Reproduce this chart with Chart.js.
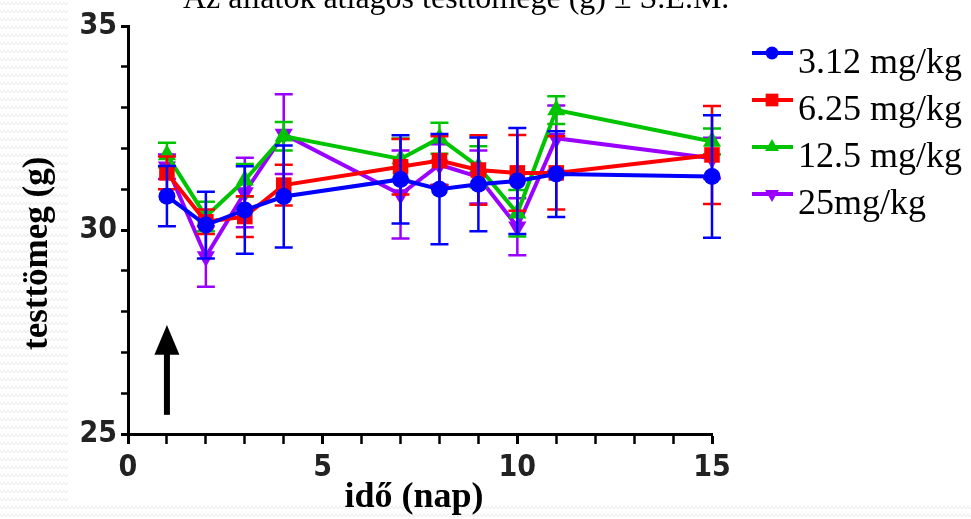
<!DOCTYPE html>
<html>
<head>
<meta charset="utf-8">
<script src="https://cdn.jsdelivr.net/npm/chart.js@4/dist/chart.umd.min.js"></script>
<style>
html,body{margin:0;padding:0;}
body{width:971px;height:519px;overflow:hidden;position:relative;
background:#fff url("data:image/svg+xml,%3Csvg xmlns='http://www.w3.org/2000/svg' width='8' height='8'%3E%3Cpath d='M0 2 L2 5 L4 2 L6 5 L8 2' fill='none' stroke='%23ebebeb' stroke-width='1'/%3E%3C/svg%3E") repeat;}
#white{position:absolute;left:68px;top:0;width:903px;height:503px;background:#fff;}
#wrap{position:absolute;left:0;top:0;width:971px;height:519px;}
</style>
</head>
<body>
<div id="white"></div>
<div id="wrap"><canvas id="c"></canvas></div>
<script>
// ---- data ----
const days = [1, 2, 3, 4, 7, 8, 9, 10, 11, 15];
const seriesNames = ['3.12 mg/kg', '6.25 mg/kg', '12.5 mg/kg', '25mg/kg'];
const mean312 = [30.83, 30.12, 30.49, 30.82, 31.24, 31.00, 31.12, 31.20, 31.37, 31.31];
const sem312  = [0.74, 0.82, 1.07, 1.25, 1.08, 1.35, 1.15, 1.30, 1.05, 1.50];
const mean625 = [31.40, 30.20, 30.33, 31.10, 31.55, 31.70, 31.47, 31.40, 31.40, 31.84];
const sem625  = [0.40, 0.30, 0.50, 0.50, 0.68, 0.60, 0.85, 0.93, 0.90, 1.20];
const mean125 = [31.84, 30.33, 31.22, 32.30, 31.74, 32.25, 31.55, 30.41, 32.94, 32.17];
const sem125  = [0.30, 0.36, 0.40, 0.35, 0.50, 0.38, 0.50, 0.57, 0.34, 0.32];
const mean25  = [31.55, 29.35, 30.92, 32.35, 30.87, 31.60, 31.30, 30.08, 32.25, 31.76];
const sem25   = [0.30, 0.74, 0.85, 0.98, 1.08, 0.50, 0.65, 0.70, 0.80, 0.50];
const yTickLabels = [25, 30, 35];
const xTickLabels = [0, 5, 10, 15];
const arrowDay = 1, arrowFrom = 25.47, arrowHeadBase = 26.94, arrowTip = 27.67;
const titleText = 'Az állatok átlagos testtömege (g) ± S.E.M.';
const xTitle = 'idő (nap)';
const yTitle = 'testtömeg (g)';

// ---- styles ----
const means = [mean312, mean625, mean125, mean25];
const sems = [sem312, sem625, sem125, sem25];
const colors = ['#0000ff', '#ff0000', '#00c400', '#9900ff'];
const pStyles = ['circle', 'rect', 'triangle', 'triangle'];
const pRot = [0, 0, 0, 180];
const pRad = [8.5, 11, 10.5, 10.5];
const legRad = [6.5, 9, 8, 8];
const tickFont = {family: '"Liberation Sans Narrow", "Arial Narrow", "DejaVu Sans Condensed", sans-serif', size: 30, weight: 'bold'};

const datasets = means.map((m, i) => ({
  label: seriesNames[i],
  data: days.map((d, j) => ({x: d, y: m[j]})),
  borderColor: colors[i],
  backgroundColor: colors[i],
  borderWidth: 4,
  pointStyle: pStyles[i],
  pointRotation: pRot[i],
  pointRadius: pRad[i],
  pointBorderWidth: 0,
  pointBackgroundColor: colors[i],
  tension: 0,
  clip: false
}));

const custom = {
  id: 'custom',
  beforeDatasetDraw(chart, args) {
    const i = args.index;
    const ctx = chart.ctx, xs = chart.scales.x, ys = chart.scales.y;
    ctx.save();
    ctx.strokeStyle = colors[i];
    ctx.lineWidth = 2.5;
    days.forEach((d, j) => {
      const x = xs.getPixelForValue(d);
      const y1 = ys.getPixelForValue(means[i][j] + sems[i][j]);
      const y2 = ys.getPixelForValue(means[i][j] - sems[i][j]);
      ctx.beginPath();
      ctx.moveTo(x, y1); ctx.lineTo(x, y2);
      ctx.moveTo(x - 9, y1); ctx.lineTo(x + 9, y1);
      ctx.moveTo(x - 9, y2); ctx.lineTo(x + 9, y2);
      ctx.stroke();
    });
    ctx.restore();
  },
  afterDatasetsDraw(chart) {
    const ctx = chart.ctx, xs = chart.scales.x, ys = chart.scales.y;
    const x = xs.getPixelForValue(arrowDay);
    const yb = ys.getPixelForValue(arrowFrom);
    const yh = ys.getPixelForValue(arrowHeadBase);
    const yt = ys.getPixelForValue(arrowTip);
    ctx.save();
    ctx.fillStyle = '#000';
    ctx.fillRect(x - 3, yh - 1, 6, yb - yh + 1);
    ctx.beginPath();
    ctx.moveTo(x, yt); ctx.lineTo(x + 12.5, yh); ctx.lineTo(x - 12.5, yh); ctx.closePath();
    ctx.fill();
    ctx.restore();
  },
  afterDraw(chart) {
    const ctx = chart.ctx;
    ctx.save();
    ctx.fillStyle = '#000';
    ctx.textBaseline = 'alphabetic';
    // title
    ctx.font = '32px "Liberation Serif", "Times New Roman", serif';
    ctx.textAlign = 'left';
    ctx.fillText(titleText, 183, 8);
    // x title
    ctx.font = 'bold 36px "Liberation Serif", "Times New Roman", serif';
    ctx.textAlign = 'center';
    ctx.fillText(xTitle, 414, 507);
    // y title
    ctx.save();
    ctx.translate(47, 350);
    ctx.rotate(-Math.PI / 2);
    ctx.font = 'bold 35px "Liberation Serif", "Times New Roman", serif';
    ctx.textAlign = 'left';
    ctx.fillText(yTitle, 0, 0);
    ctx.restore();
    // legend
    seriesNames.forEach((name, i) => {
      const y = 53 + i * 47;
      ctx.strokeStyle = colors[i];
      ctx.fillStyle = colors[i];
      ctx.lineWidth = 4;
      ctx.beginPath(); ctx.moveTo(752, y); ctx.lineTo(793, y); ctx.stroke();
      Chart.helpers.drawPoint(ctx, {pointStyle: pStyles[i], rotation: pRot[i], radius: legRad[i], borderWidth: 0}, 772, y);
      ctx.fillStyle = '#000';
      ctx.font = '36px "Liberation Serif", "Times New Roman", serif';
      ctx.textAlign = 'left';
      ctx.fillText(name, 798, y + 20);
    });
    ctx.restore();
  }
};

new Chart(document.getElementById('c'), {
  type: 'line',
  data: {datasets},
  options: {
    responsive: true,
    maintainAspectRatio: false,
    animation: false,
    layout: {padding: {left: 0, top: 26, right: 259, bottom: 0}},
    plugins: {legend: {display: false}, title: {display: false}, tooltip: {enabled: false}},
    scales: {
      x: {
        type: 'linear', min: 0, max: 15,
        ticks: {stepSize: 1, autoSkip: false, maxRotation: 0, padding: 6, color: '#222', font: tickFont,
          callback: v => xTickLabels.includes(v) ? String(v) : ''},
        grid: {drawOnChartArea: false, drawTicks: true, tickLength: 10, tickColor: '#000',
          tickWidth: c => (c.tick && xTickLabels.includes(c.tick.value)) ? 3 : 2.5},
        border: {display: true, color: '#000', width: 3},
        afterFit: s => { s.height = 85; }
      },
      y: {
        type: 'linear', min: 25, max: 35,
        ticks: {stepSize: 1, autoSkip: false, padding: 4, color: '#222', font: tickFont,
          callback: v => yTickLabels.includes(v) ? String(v) : ''},
        grid: {drawOnChartArea: false, drawTicks: true, tickLength: 7, tickColor: '#000',
          tickWidth: c => (c.tick && yTickLabels.includes(c.tick.value)) ? 3 : 2.5},
        border: {display: true, color: '#000', width: 3},
        afterFit: s => { s.width = 128; }
      }
    }
  },
  plugins: [custom]
});
</script>
</body>
</html>
